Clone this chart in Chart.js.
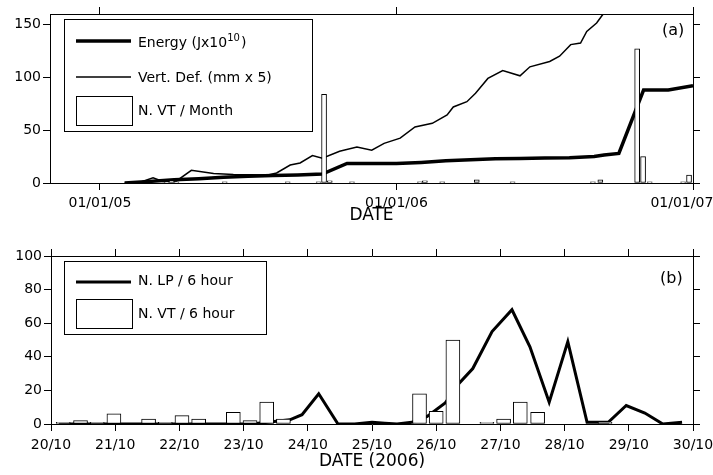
<!DOCTYPE html>
<html>
<head>
<meta charset="utf-8">
<script src="https://cdn.jsdelivr.net/npm/chart.js@4.4.0/dist/chart.umd.min.js"></script>
<style>
  html, body { margin: 0; padding: 0; background: #fff; }
  #wrapA { position: absolute; left: 0; top: 0; width: 713px; height: 238px; }
  #wrapB { position: absolute; left: 0; top: 238px; width: 713px; height: 237px; }
</style>
</head>
<body>
<div id="wrapA"><canvas id="chartA" width="713" height="238"></canvas></div>
<div id="wrapB"><canvas id="chartB" width="713" height="237"></canvas></div>
<script>
// panel (a) - x in months after 01/01/05
const yearTicks = [0, 12, 24];
const yearLabels = ['01/01/05', '01/01/06', '01/01/07'];
const topYTicks = [0, 50, 100, 150];

const energyMonths = [1, 2, 3, 4, 5, 6, 7, 8, 9, 10, 11, 12, 13, 14, 15, 16, 17, 18, 19, 20, 20.4, 21, 22, 23, 24];
const energyValues = [0, 1.5, 3, 4, 5.5, 6.5, 7, 7.5, 8.5, 18.5, 18.5, 18.5, 19.5, 21, 22, 23, 23.3, 23.6, 24, 25, 26.5, 28, 88, 88, 92];

const defMonths = [1.0, 1.6, 2.15, 2.55, 3.1, 3.7, 4.6, 5.4, 6.8, 7.15, 7.7, 8.1, 8.6, 9.0, 9.7, 10.4, 11.0, 11.5, 12.15, 12.75, 13.45, 14.05, 14.3, 14.85, 15.2, 15.7, 16.3, 17.0, 17.4, 18.2, 18.6, 19.05, 19.45, 19.7, 20.1, 20.35, 20.85];
const defValues = [0, 0.5, 5, 1.5, 2, 12, 9, 8, 7.5, 9.5, 17, 19, 26, 23.5, 30, 34, 31, 37.5, 42.5, 53, 56.5, 64.5, 72, 77, 85, 99, 106.5, 101.5, 110, 115, 120, 131, 132.5, 143.5, 151.5, 159.5, 175];

const vtMonths = [2.7, 2.9, 3.1, 5.05, 7.6, 8.85, 9.07, 9.3, 10.2, 12.95, 13.15, 13.85, 15.25, 16.7, 19.95, 20.25, 21.74, 21.98, 22.25, 23.6, 23.84];
const vtMonthCounts = [1, 2, 1, 1, 1, 1, 84, 2, 1, 1, 2, 1, 3, 1, 1, 3, 127, 25, 1, 1, 7.5];

// panel (b) - x in days after 20/10/2006
const dayTicks = [0, 1, 2, 3, 4, 5, 6, 7, 8, 9, 10];
const dayLabels = ['20/10', '21/10', '22/10', '23/10', '24/10', '25/10', '26/10', '27/10', '28/10', '29/10', '30/10'];
const bottomYTicks = [0, 20, 40, 60, 80, 100];

const lpDays = [0.12, 0.37, 0.62, 0.87, 1.12, 1.37, 1.62, 1.87, 2.12, 2.37, 2.62, 2.87, 3.12, 3.37, 3.72, 3.91, 4.17, 4.47, 4.73, 5.0, 5.2, 5.39, 5.62, 5.86, 6.14, 6.34, 6.57, 6.87, 7.18, 7.46, 7.76, 8.05, 8.35, 8.68, 8.96, 9.25, 9.53, 9.83];
const lpCounts = [0, 0, 0, 0, 0, 0, 0, 0, 0, 0, 0, 0, 0, 1, 2.5, 5.5, 18, 0, 0, 1, 0.5, 0, 1, 4.5, 12.5, 23.5, 33, 55, 68, 46, 13, 49, 1, 1, 11, 6.5, 0, 1];

const vtDays = [0.19, 0.46, 0.72, 0.98, 1.52, 1.78, 2.04, 2.3, 2.84, 3.1, 3.36, 3.62, 5.74, 6.0, 6.26, 6.79, 7.05, 7.31, 7.58, 8.63];
const vtSixHourCounts = [1, 2, 1, 6, 3, 1, 5, 3, 7, 2, 13, 3, 18, 7.5, 50, 1, 3, 13, 7, 1];

Chart.defaults.font.family = 'DejaVu Sans';
Chart.defaults.font.size = 14;
Chart.defaults.color = '#000';

const pairs = (xs, ys) => xs.map((x, i) => ({ x: x, y: ys[i] }));

function tickGrid() {
  return { drawOnChartArea: false, drawTicks: true, tickLength: 7, color: '#000', lineWidth: 1, offset: false };
}

function makeScales(opt) {
  const setTicks = vals => s => { s.ticks = vals.map(v => ({ value: v })); };
  // fixed axis sizes, and no extra room for overhanging labels
  const fixH = h => s => { s.height = h; s.paddingLeft = 0; s.paddingRight = 0; };
  const fixW = w => s => { s.width = w; s.paddingTop = 0; s.paddingBottom = 0; };
  return {
    x: {
      type: 'linear', position: 'bottom', min: opt.xMin, max: opt.xMax, offset: false,
      afterBuildTicks: setTicks(opt.xTicks),
      afterFit: fixH(opt.bottomH),
      grid: tickGrid(),
      border: { color: '#000', width: 1 },
      ticks: { padding: opt.xPad, maxRotation: 0, autoSkip: false, callback: opt.xLabel },
      title: { display: true, text: opt.xTitle, font: { size: 17 }, padding: { top: 0, bottom: opt.titlePad } }
    },
    xTop: {
      type: 'linear', position: 'top', min: opt.xMin, max: opt.xMax, offset: false,
      afterBuildTicks: setTicks(opt.xTicks),
      afterFit: fixH(opt.topH),
      grid: tickGrid(),
      border: { color: '#000', width: 1 },
      ticks: { display: false }
    },
    y: {
      type: 'linear', position: 'left', min: 0, max: opt.yMax,
      afterBuildTicks: setTicks(opt.yTicks),
      afterFit: fixW(opt.leftW),
      grid: tickGrid(),
      border: { color: '#000', width: 1 },
      ticks: { padding: 2, callback: v => String(v) }
    },
    yRight: {
      type: 'linear', position: 'right', min: 0, max: opt.yMax,
      afterBuildTicks: setTicks(opt.yTicks),
      afterFit: fixW(20),
      grid: tickGrid(),
      border: { color: '#000', width: 1 },
      ticks: { display: false }
    }
  };
}

// legend box + panel tag drawn by hand, like the original figure
function drawLabel(ctx, text, x, y) {
  const parts = text.split(/\^(\d+)/);
  let cx = x;
  parts.forEach((p, i) => {
    if (i % 2 === 1) {
      ctx.font = '10px "DejaVu Sans"';
      ctx.fillText(p, cx, y - 5);
    } else {
      ctx.font = '14px "DejaVu Sans"';
      ctx.fillText(p, cx, y);
    }
    cx += ctx.measureText(p).width + (i % 2 === 1 ? 1 : 0);
  });
}

function keyPlugin(box, rows, tag) {
  return {
    id: 'key',
    afterDraw(chart) {
      const ctx = chart.ctx;
      ctx.save();
      ctx.fillStyle = '#fff';
      ctx.fillRect(box.x, box.y, box.w, box.h);
      ctx.strokeStyle = '#000';
      ctx.lineWidth = 1;
      ctx.strokeRect(box.x + 0.5, box.y + 0.5, box.w, box.h);
      rows.forEach(r => {
        const ds = chart.data.datasets[r.index];
        if (r.kind === 'line') {
          ctx.lineWidth = ds.borderWidth;
          ctx.beginPath();
          ctx.moveTo(76, r.y);
          ctx.lineTo(131, r.y);
          ctx.stroke();
        } else {
          ctx.lineWidth = 1;
          ctx.strokeRect(76.5, r.y - 14.5, 56, 29);
        }
        ctx.fillStyle = '#000';
        ctx.textBaseline = 'middle';
        ctx.textAlign = 'left';
        drawLabel(ctx, ds.label, 138, r.ty);
      });
      ctx.font = '16px "DejaVu Sans"';
      ctx.textBaseline = 'middle';
      ctx.fillText(tag.text, tag.x, tag.y);
      ctx.restore();
    }
  };
}

new Chart(document.getElementById('chartA'), {
  type: 'line',
  data: {
    datasets: [
      { label: 'Energy (Jx10^10)', data: pairs(energyMonths, energyValues), borderColor: '#000', borderWidth: 3.5, pointRadius: 0, tension: 0, order: 2 },
      { label: 'Vert. Def. (mm x 5)', data: pairs(defMonths, defValues), borderColor: '#000', borderWidth: 1.5, pointRadius: 0, tension: 0, order: 3 },
      { type: 'bar', label: 'N. VT / Month', data: pairs(vtMonths, vtMonthCounts), backgroundColor: '#fff', borderColor: '#000', borderWidth: 1, borderSkipped: false, barThickness: 5, order: 1 }
    ]
  },
  options: {
    responsive: false,
    animation: false,
    layout: { padding: 0 },
    plugins: { legend: { display: false }, tooltip: { enabled: false } },
    scales: makeScales({
      xMin: -2.02, xMax: 24, xTicks: yearTicks, yMax: 160, yTicks: topYTicks,
      bottomH: 55, topH: 14, leftW: 50, xPad: 5, titlePad: 12, xTitle: 'DATE',
      xLabel: v => {
        const lab = yearLabels[yearTicks.indexOf(v)];
        return v === 24 ? lab + '     ' : lab;
      }
    })
  },
  plugins: [keyPlugin({ x: 64, y: 19, w: 248, h: 112 },
    [{ index: 0, kind: 'line', y: 41, ty: 43 }, { index: 1, kind: 'line', y: 77, ty: 78 }, { index: 2, kind: 'box', y: 111, ty: 111 }],
    { text: '(a)', x: 662, y: 31 })]
});

new Chart(document.getElementById('chartB'), {
  type: 'line',
  data: {
    datasets: [
      { label: 'N. LP / 6 hour', data: pairs(lpDays, lpCounts), borderColor: '#000', borderWidth: 3, pointRadius: 0, tension: 0, order: 2 },
      { type: 'bar', label: 'N. VT / 6 hour', data: pairs(vtDays, vtSixHourCounts), backgroundColor: '#fff', borderColor: '#000', borderWidth: 1, borderSkipped: false, barThickness: 14, order: 1 }
    ]
  },
  options: {
    responsive: false,
    animation: false,
    layout: { padding: 0 },
    plugins: { legend: { display: false }, tooltip: { enabled: false } },
    scales: makeScales({
      xMin: 0, xMax: 10, xTicks: dayTicks, yMax: 100, yTicks: bottomYTicks,
      bottomH: 51, topH: 18, leftW: 51, xPad: 6, titlePad: 3, xTitle: 'DATE (2006)',
      xLabel: v => dayLabels[dayTicks.indexOf(v)]
    })
  },
  plugins: [keyPlugin({ x: 64, y: 23, w: 202, h: 73 },
    [{ index: 0, kind: 'line', y: 44, ty: 43.5 }, { index: 1, kind: 'box', y: 76, ty: 76 }],
    { text: '(b)', x: 660, y: 41 })]
});
</script>
</body>
</html>
